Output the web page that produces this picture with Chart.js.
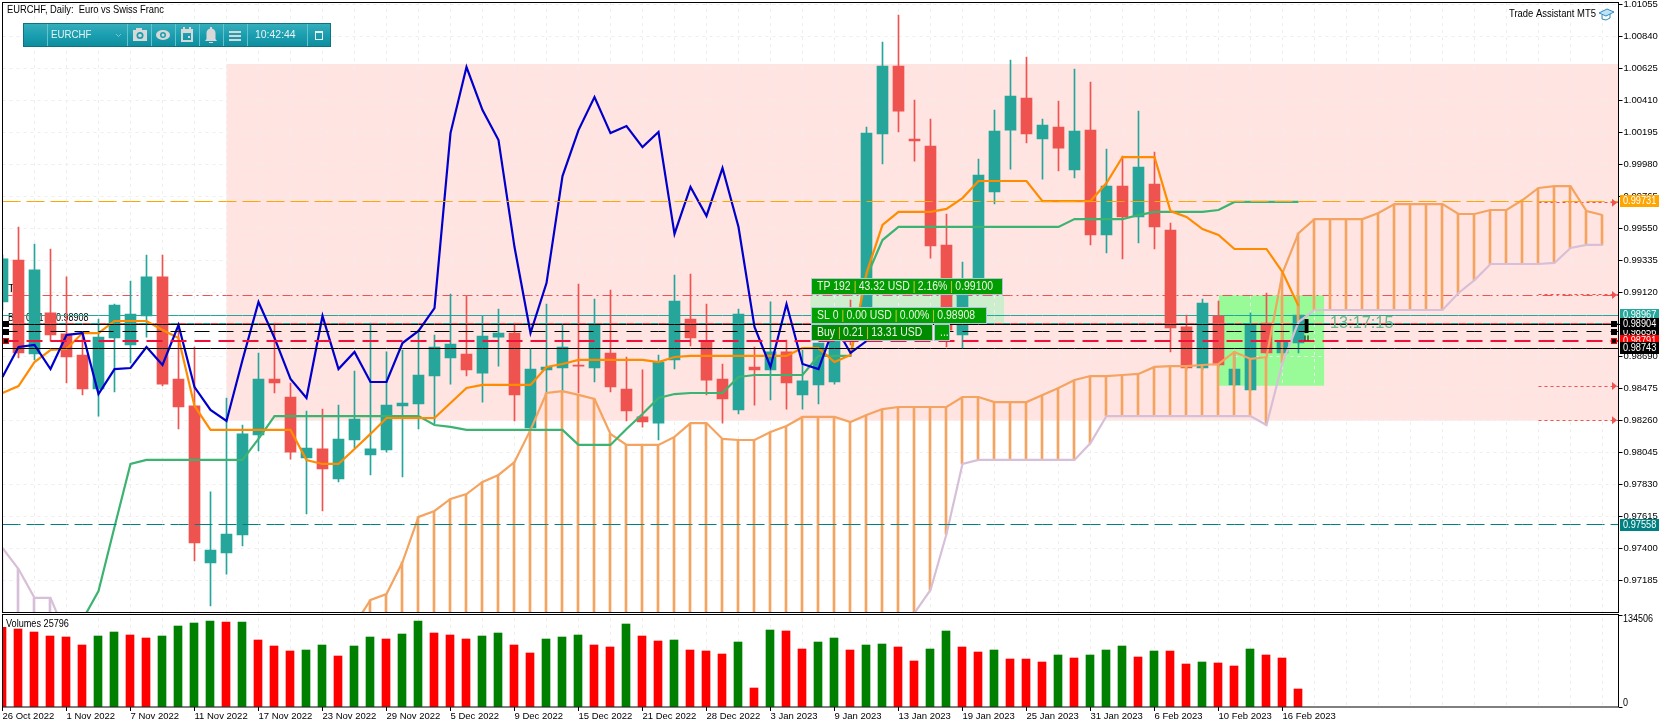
<!DOCTYPE html>
<html>
<head>
<meta charset="utf-8">
<title>EURCHF, Daily</title>
<script src="https://cdn.jsdelivr.net/npm/chart.js@4"></script>
<style>
  html, body { margin: 0; padding: 0; background: #fff; }
  canvas { display: block; }
</style>
</head>
<body>
<canvas id="chart" width="1670" height="728"></canvas>
<script>
const categories = [
  '26 Oct 2022','27 Oct 2022','28 Oct 2022','31 Oct 2022','1 Nov 2022','2 Nov 2022','3 Nov 2022','4 Nov 2022',
  '7 Nov 2022','8 Nov 2022','9 Nov 2022','10 Nov 2022','11 Nov 2022','14 Nov 2022','15 Nov 2022','16 Nov 2022',
  '17 Nov 2022','18 Nov 2022','21 Nov 2022','22 Nov 2022','23 Nov 2022','24 Nov 2022','25 Nov 2022','28 Nov 2022',
  '29 Nov 2022','30 Nov 2022','1 Dec 2022','2 Dec 2022','5 Dec 2022','6 Dec 2022','7 Dec 2022','8 Dec 2022',
  '9 Dec 2022','12 Dec 2022','13 Dec 2022','14 Dec 2022','15 Dec 2022','16 Dec 2022','19 Dec 2022','20 Dec 2022',
  '21 Dec 2022','22 Dec 2022','23 Dec 2022','27 Dec 2022','28 Dec 2022','29 Dec 2022','30 Dec 2022','2 Jan 2023',
  '3 Jan 2023','4 Jan 2023','5 Jan 2023','6 Jan 2023','9 Jan 2023','10 Jan 2023','11 Jan 2023','12 Jan 2023',
  '13 Jan 2023','16 Jan 2023','17 Jan 2023','18 Jan 2023','19 Jan 2023','20 Jan 2023','23 Jan 2023','24 Jan 2023',
  '25 Jan 2023','26 Jan 2023','27 Jan 2023','30 Jan 2023','31 Jan 2023','1 Feb 2023','2 Feb 2023','3 Feb 2023',
  '6 Feb 2023','7 Feb 2023','8 Feb 2023','9 Feb 2023','10 Feb 2023','13 Feb 2023','14 Feb 2023','15 Feb 2023',
  '16 Feb 2023','17 Feb 2023','20 Feb 2023','21 Feb 2023','22 Feb 2023','23 Feb 2023','24 Feb 2023','27 Feb 2023',
  '28 Feb 2023','1 Mar 2023','2 Mar 2023','3 Mar 2023','6 Mar 2023','7 Mar 2023','8 Mar 2023','9 Mar 2023',
  '10 Mar 2023','13 Mar 2023','14 Mar 2023','15 Mar 2023','16 Mar 2023','17 Mar 2023'
];

const opens = [.99055,.99337,.98705,.98981,.98840,.98698,.98470,.98813,.98766,.98961,.99223,.98537,.98356,.97301,.97368,.97489,.98161,.98537,.98416,.98006,.98067,.97865,.98127,.98026,.98060,.98356,.98369,.98557,.98678,.98705,.98577,.98819,.98846,.98208,.98598,.98611,.98631,.98611,.98712,.98470,.98282,.98241,.98665,.98940,.98792,.98537,.98329,.98618,.98598,.98719,.98430,.98497,.98517,.98866,.98866,1.00184,1.00640,1.00150,1.00103,.99438,.98833,.99202,.99794,1.00210,1.00425,1.00150,1.00231,.99942,1.00210,.99505,.99834,.99626,.99848,.99538,.98887,.98611,.98961,.98497,.98463,.98913,.98712,.98779];
const highs = [.99370,.99559,.99444,.99411,.99223,.98846,.98940,.99041,.99196,.99370,.99370,.98913,.98752,.97778,.98409,.98228,.98712,.98913,.98510,.98322,.98335,.98362,.98591,.98913,.98719,.98732,.98866,.98833,.99108,.99095,.98961,.99007,.98913,.98739,.99041,.98900,.99175,.99075,.99135,.98685,.98598,.98698,.99236,.99243,.99041,.98638,.99007,.98752,.99055,.98799,.98732,.98779,.98900,.99068,1.00231,1.00802,1.00983,1.00412,1.00284,.99646,.99323,1.00016,1.00345,1.00681,1.00701,1.00284,1.00405,1.00620,1.00533,1.00083,1.00036,1.00338,1.00063,.99585,.98967,.99075,.99061,.98719,.98981,.99115,.98913,.99095];
const lows = [.99001,.98678,.98665,.98792,.98510,.98430,.98288,.98450,.98645,.98819,.98490,.98201,.97314,.97012,.97226,.97415,.98053,.98443,.97999,.97630,.97650,.97845,.98073,.97892,.98046,.97879,.98201,.98235,.98503,.98557,.98382,.98624,.98255,.98194,.98443,.98443,.98443,.98517,.98450,.98255,.98214,.98127,.98604,.98759,.98430,.98241,.98302,.98362,.98396,.98335,.98335,.98369,.98503,.98766,.98799,.99982,1.00197,1.00002,.99350,.98752,.98745,.99102,.99713,.99948,1.00123,.99881,.99935,.99888,.99438,.99384,.99344,.99451,.99411,.98719,.98598,.98598,.98618,.98490,.98457,.98705,.98698,.98712];
const closes = [.99344,.98712,.99270,.98833,.98685,.98470,.98819,.99034,.98974,.99223,.98503,.98349,.97435,.97388,.97495,.98168,.98537,.98510,.98046,.98073,.97932,.98134,.98268,.98067,.98362,.98376,.98564,.98752,.98772,.98598,.98826,.98846,.98430,.98604,.98618,.98752,.98624,.98907,.98483,.98322,.98248,.98651,.99061,.98813,.98530,.98403,.98974,.98598,.98719,.98510,.98524,.98779,.98819,.98826,1.00190,1.00640,1.00338,1.00137,.99431,.98866,.99102,.99908,1.00204,1.00439,1.00184,1.00244,1.00089,1.00204,.99505,.99834,.99626,.99962,.99559,.98880,.98611,.99048,.98631,.98604,.98900,.98712,.98792,.98967];

// Blue line, stops 26 bars before the last candle
const lagging = [.98551,.98752,.98766,.98604,.98833,.98846,.98436,.98604,.98611,.98752,.98631,.98900,.98483,.98329,.98255,.98665,.99055,.98813,.98537,.98409,.98961,.98604,.98719,.98517,.98517,.98779,.98860,.99014,1.00190,1.00634,1.00345,1.00143,.99424,.98846,.99182,.99901,1.00210,1.00432,1.00190,1.00237,1.00096,1.00197,.99512,.99828,.99633,.99955,.99559,.98887,.98618,.99041,.98638,.98604,.98900,.98712,.98792,.98967];
const tenkan = [.98443,.98490,.98651,.98732,.98739,.98846,.98846,.98927,.98927,.98927,.98866,.98813,.98356,.98195,.98195,.98195,.98195,.98195,.98195,.97993,.97966,.97966,.98067,.98168,.98275,.98275,.98275,.98275,.98376,.98477,.98497,.98497,.98497,.98497,.98618,.98638,.98665,.98665,.98665,.98665,.98665,.98651,.98685,.98692,.98692,.98692,.98692,.98692,.98692,.98692,.98745,.98745,.98651,.98698,.99249,.99572,.99660,.99660,.99660,.99680,.99753,.99868,.99868,.99868,.99868,.99733,.99733,.99733,.99733,.99854,1.00029,1.00029,1.00029,.99666,.99626,.99545,.99505,.99411,.99411,.99411,.99256,.99028];
const kijun = [null,null,null,null,null,.96918,.97112,.97543,.97966,.97993,.97993,.97993,.97993,.97993,.97993,.97993,.98134,.98288,.98288,.98288,.98288,.98288,.98288,.98288,.98288,.98288,.98288,.98228,.98215,.98195,.98195,.98195,.98195,.98195,.98195,.98195,.98094,.98094,.98094,.98201,.98302,.98409,.98436,.98443,.98443,.98443,.98551,.98564,.98564,.98564,.98564,.98692,.98692,.98692,.99223,.99471,.99559,.99559,.99559,.99559,.99559,.99559,.99559,.99559,.99559,.99559,.99559,.99612,.99612,.99612,.99612,.99639,.99660,.99660,.99660,.99660,.99673,.99727,.99727,.99727,.99727,.99727];
// Cloud spans run below the visible range for part of the chart
const spanA = [.965,.965,.965,.965,.965,.965,.965,.965,.965,.965,.965,.965,.965,.965,.965,.965,.965,.965,.965,.965,.965,.965,.96884,.97052,.97092,.97307,.97610,.97650,.97731,.97764,.97845,.97892,.97979,.98195,.98443,.98456,.98430,.98403,.98168,.98094,.98094,.98094,.98148,.98241,.98241,.98134,.98127,.98127,.98181,.98221,.98282,.98282,.98282,.98248,.98295,.98335,.98349,.98349,.98349,.98349,.98416,.98416,.98382,.98382,.98382,.98430,.98477,.98530,.98557,.98557,.98564,.98571,.98618,.98624,.98624,.98631,.98638,.98719,.98672,.98685,.99249,.99518,.99612,.99612,.99612,.99612,.99653,.99713,.99713,.99713,.99713,.99646,.99646,.99673,.99673,.99740,.99821,.99834,.99834,.99666,.99639,null];
const spanB = [.97401,.97260,.97066,.97066,.96810,.965,.965,.965,.965,.965,.965,.965,.965,.965,.965,.965,.965,.965,.965,.965,.965,.965,.965,.965,.965,.965,.965,.965,.965,.965,.965,.965,.965,.965,.965,.965,.965,.965,.965,.965,.965,.965,.965,.965,.965,.965,.965,.965,.965,.965,.965,.965,.965,.965,.965,.965,.965,.96965,.97119,.97495,.97966,.97993,.97993,.97993,.97993,.97993,.97993,.97993,.98107,.98288,.98288,.98288,.98288,.98288,.98288,.98288,.98288,.98288,.98288,.98228,.98645,.98920,.99001,.99001,.99001,.99001,.99001,.99001,.99001,.99001,.99001,.99115,.99202,.99310,.99310,.99310,.99310,.99317,.99418,.99438,.99438,null];

const volumes = [116465,114028,109643,103795,102333,90638,103795,109643,105257,100871,103795,118414,122800,125723,124262,124300,97947,89176,81866,83328,90638,74557,89176,102333,99409,106719,125723,108181,105257,99409,103795,108181,90638,78943,99409,102333,105257,90638,87714,121338,103795,96485,97947,83328,81866,77481,95024,27776,112566,111104,84790,95024,100871,83328,90638,92100,87714,67247,84790,111104,87714,80405,83328,70171,70100,65786,76019,71633,76019,83328,89176,73095,81866,81800,62862,65786,64324,59938,84790,76019,71633,26314];

const priceTicks = [1.01055,1.00840,1.00625,1.00410,1.00195,.99980,.99765,.99550,.99335,.99120,.98905,.98690,.98475,.98260,.98045,.97830,.97615,.97400,.97185];
const volumeTicks = [134506,0];

const levelOrange = .99731, levelAsk = .98967, levelTealLow = .97558;
const levelTP = .99100, levelSL = .98908;
const levelBlack1 = .98904, levelBlack2 = .98856, levelRed = .98791, levelBlack3 = .98743;
const dottedLevels = [.99722,.99102,.98490,.98260];

const zone = { from: 14, to: 101, top: 1.00654, bottom: .98257 };
const greenBox = { from: 76, to: 82.6, top: .99100, bottom: .98492 };
const tradeBox = { from: 50.5, to: 62.6, top: .99100, bottom: .98908 };

const UP = '#26A69A', DOWN = '#EF5350';
const FONT = '"Liberation Sans"';

const candleColors = closes.map((c, i) => c >= opens[i] ? UP : DOWN);
const volumeColors = volumes.map((v, i) => i > 0 && v > volumes[i - 1] ? '#008000' : '#FF0000');
const hatch = spanA.map((a, i) => a === null ? null : [Math.min(a, spanB[i]), Math.max(a, spanB[i])]);
const hatchColors = spanA.map((a, i) => a > spanB[i] ? '#F4A460' : '#D8BFD8');

function level(value, color, dash, width, order, offset) {
  return {
    type: 'line', yAxisID: 'y', data: categories.map(() => value), borderColor: color,
    borderWidth: width, borderDash: dash, borderDashOffset: offset || 0,
    pointRadius: 0, order: order, tension: 0, snapY: true
  };
}
function curve(values, color, order) {
  return { type: 'line', yAxisID: 'y', data: values, borderColor: color, borderWidth: 2.2, pointRadius: 0, order: order, tension: 0 };
}
function dotted(value) {
  return {
    type: 'line', yAxisID: 'y', data: categories.map((c, i) => i >= 96 ? value : null),
    borderColor: DOWN, borderWidth: 1, borderDash: [3, 3], pointRadius: 0, order: 9, tension: 0, snapY: true
  };
}

function rectFor(chart, r, color) {
  const x = chart.scales.x, y = chart.scales.y;
  const px = v => x.left + (x.right - x.left) * v / (categories.length - 1);
  chart.ctx.fillStyle = color;
  chart.ctx.fillRect(px(r.from), y.getPixelForValue(r.top), px(r.to) - px(r.from), y.getPixelForValue(r.bottom) - y.getPixelForValue(r.top));
}

// MT5 text is narrower than the installed fonts, sx squeezes it horizontally
function label(ctx, text, x, y, font, color, sx) {
  ctx.save();
  ctx.font = font;
  ctx.fillStyle = color;
  ctx.textAlign = 'left';
  ctx.textBaseline = 'middle';
  ctx.translate(x, y);
  ctx.scale(sx || 1, 1);
  ctx.fillText(text, 0, 0);
  ctx.restore();
}

function flag(ctx, y, text, bg) {
  ctx.fillStyle = bg;
  ctx.fillRect(1620, Math.round(y) - 6, 39, 12);
  label(ctx, text, 1623, Math.round(y), '10px ' + FONT, '#fff', .92);
}

function tradeLabel(ctx, x, y, w, h, parts, bg) {
  const sx = .87, font = '12px ' + FONT;
  ctx.fillStyle = bg;
  ctx.fillRect(x, y, w, h);
  ctx.strokeStyle = '#B0C4DE';
  ctx.lineWidth = 1;
  ctx.strokeRect(x + .5, y + .5, w - 1, h - 1);
  let cx = x + 6;
  parts.forEach((p, i) => {
    if (i > 0) {
      label(ctx, '|', cx + 3, y + h / 2, font, '#F0C030', sx);
      cx += 8;
    }
    label(ctx, p, cx, y + h / 2, font, '#F0F5E8', sx);
    ctx.font = font;
    cx += ctx.measureText(p).width * sx;
  });
}

function drawToolbar(ctx) {
  const x = 23, y = 23, w = 308, h = 24;
  const g = ctx.createLinearGradient(0, y, 0, y + h);
  g.addColorStop(0, '#38AEBC');
  g.addColorStop(.5, '#1A9FB0');
  g.addColorStop(1, '#0D8C9C');
  ctx.fillStyle = g;
  ctx.fillRect(x, y, w, h);
  ctx.strokeStyle = '#0B7480';
  ctx.lineWidth = 1;
  ctx.strokeRect(x + .5, y + .5, w - 1, h - 1);
  ctx.strokeStyle = '#66C2CC';
  [47, 127, 151, 175, 199, 223, 247, 307].forEach(sx => {
    ctx.beginPath(); ctx.moveTo(sx + .5, y + 1); ctx.lineTo(sx + .5, y + h - 1); ctx.stroke();
  });
  label(ctx, 'EURCHF', 51, 35, '11px ' + FONT, '#E8F4F6', .88);
  const gray = '#D8D8D8';
  ctx.strokeStyle = '#7FC4CE';
  ctx.beginPath(); ctx.moveTo(116, 34); ctx.lineTo(118.5, 36.5); ctx.lineTo(121, 34); ctx.stroke();
  // camera
  ctx.fillStyle = gray;
  ctx.fillRect(133, 30, 14, 11);
  ctx.fillRect(136, 28, 6, 2);
  ctx.fillStyle = '#1A9FB0';
  ctx.beginPath(); ctx.arc(140, 35.5, 3.5, 0, Math.PI * 2); ctx.fill();
  ctx.fillStyle = gray;
  ctx.beginPath(); ctx.arc(140, 35.5, 1.8, 0, Math.PI * 2); ctx.fill();
  // eye
  ctx.fillStyle = gray;
  ctx.beginPath(); ctx.ellipse(163, 35, 7, 5, 0, 0, Math.PI * 2); ctx.fill();
  ctx.fillStyle = '#1A9FB0';
  ctx.beginPath(); ctx.arc(163, 35, 3, 0, Math.PI * 2); ctx.fill();
  ctx.fillStyle = gray;
  ctx.beginPath(); ctx.arc(163, 35, 1.5, 0, Math.PI * 2); ctx.fill();
  // calendar
  ctx.strokeStyle = gray;
  ctx.lineWidth = 2;
  ctx.strokeRect(182, 30, 10, 11);
  ctx.fillStyle = gray;
  ctx.fillRect(181, 29, 12, 4);
  ctx.fillRect(183, 27, 2, 3);
  ctx.fillRect(189, 27, 2, 3);
  ctx.fillRect(188, 36, 2, 2);
  // bell
  ctx.fillStyle = gray;
  ctx.beginPath(); ctx.arc(211, 33, 4.5, Math.PI, 0); ctx.lineTo(215.5, 39); ctx.lineTo(217, 41); ctx.lineTo(205, 41); ctx.lineTo(206.5, 39); ctx.closePath(); ctx.fill();
  ctx.fillRect(210, 27, 2, 2);
  ctx.fillRect(209, 42, 4, 1);
  // menu
  ctx.fillRect(229, 31, 12, 2);
  ctx.fillRect(229, 35, 12, 2);
  ctx.fillRect(229, 39, 12, 2);
  label(ctx, '10:42:44', 255, 35, '11px ' + FONT, '#E8F4F6', .95);
  // window
  ctx.strokeStyle = '#F0F0F0';
  ctx.lineWidth = 1;
  ctx.strokeRect(315.5, 32.5, 7, 7);
  ctx.fillStyle = '#F0F0F0';
  ctx.fillRect(315, 31, 8, 2);
  ctx.lineWidth = 1;
}

const chromePlugin = {
  id: 'chrome',
  beforeDraw(chart) {
    const ctx = chart.ctx;
    ctx.save();
    ctx.fillStyle = '#fff';
    ctx.fillRect(0, 0, chart.width, chart.height);
    rectFor(chart, zone, '#FFE4E1');
    rectFor(chart, tradeBox, '#CDEECC');
    rectFor(chart, greenBox, '#98FB98');
    ctx.restore();
  },
  beforeDatasetsDraw(chart) {
    const ctx = chart.ctx, y = chart.scales.y;
    ctx.save();
    label(ctx, 'T', 8, y.getPixelForValue(levelTP) - 6, '11px ' + FONT, '#000');
    label(ctx, 'Buy 0.21 at 0.98908', 8, y.getPixelForValue(levelSL) - 6, '10px ' + FONT, '#000', .9);
    ctx.restore();
  },
  // keep horizontal levels and narrow bars on whole pixels so they stay sharp
  beforeDatasetDraw(chart, args) {
    const ds = chart.data.datasets[args.index], ctx = chart.ctx;
    ctx.save();
    if (ds.snapY) {
      const value = ds.data.find(v => v !== null);
      const py = chart.scales.y.getPixelForValue(value);
      const target = ds.borderWidth % 2 ? Math.floor(py) + .5 : Math.round(py);
      ctx.translate(0, target - py);
    }
    if (ds.snapX) ctx.translate(ds.snapX, 0);
  },
  afterDatasetDraw(chart) {
    chart.ctx.restore();
  },
  afterDatasetsDraw(chart) {
    const ctx = chart.ctx, y = chart.scales.y, v = chart.scales.yVolume, x = chart.scales.x;
    const a = chart.chartArea;
    ctx.save();

    // position marker beside the last candle
    ctx.fillStyle = '#000';
    const mx = x.getPixelForValue(81) + 6;
    ctx.fillRect(mx, y.getPixelForValue(.98940), 4, 14);
    ctx.fillRect(mx, y.getPixelForValue(.98830), 1, 5);
    ctx.fillRect(mx + 3, y.getPixelForValue(.98830), 1, 5);

    // pane frames
    ctx.strokeStyle = '#000';
    ctx.lineWidth = 1;
    ctx.strokeRect(a.left, 2.5, a.right - a.left, 610);
    ctx.strokeRect(a.left, 614.5, a.right - a.left, 92.5);

    // line handles on both sides
    [[levelBlack1, '#000'], [levelBlack2, '#000'], [levelRed, '#FF0000']].forEach(([val, col]) => {
      const py = Math.round(y.getPixelForValue(val));
      [3, 1611].forEach(sx => {
        ctx.fillStyle = col;
        ctx.fillRect(sx, py - 3, 6, 6);
        ctx.fillStyle = '#000';
        ctx.fillRect(sx + 1, py - 2, 4, 4);
      });
    });

    // arrows at the end of the dotted levels
    dottedLevels.forEach(val => {
      const py = y.getPixelForValue(val);
      ctx.fillStyle = DOWN;
      ctx.beginPath(); ctx.moveTo(1612, py - 4); ctx.lineTo(1617, py); ctx.lineTo(1612, py + 4); ctx.closePath(); ctx.fill();
    });

    // countdown
    label(ctx, '13:17:15', 1330, y.getPixelForValue(levelSL), '17px ' + FONT, '#66BB8A', .96);

    // trade labels
    tradeLabel(ctx, 811, 278, 192, 17, ['TP 192', '43.32 USD', '2.16%', '0.99100'], '#009C00');
    tradeLabel(ctx, 811, 307, 176, 17, ['SL 0', '0.00 USD', '0.00%', '0.98908'], '#00A000');
    tradeLabel(ctx, 811, 324, 122, 17, ['Buy', '0.21', '13.31 USD'], '#008A00');
    tradeLabel(ctx, 934, 324, 16, 17, ['...'], '#00A000');

    drawToolbar(ctx);

    label(ctx, 'EURCHF, Daily:  Euro vs Swiss Franc', 7, 10, '11px ' + FONT, '#000', .85);
    label(ctx, 'Trade Assistant MT5', 1509, 14, '11px ' + FONT, '#000', .86);
    label(ctx, 'Volumes 25796', 6, 624, '11px ' + FONT, '#000', .83);

    // graduation cap
    ctx.strokeStyle = '#2E8BC0';
    ctx.fillStyle = '#BEE3F2';
    ctx.beginPath(); ctx.moveTo(1599, 13); ctx.lineTo(1607, 9); ctx.lineTo(1614, 12); ctx.lineTo(1606, 16); ctx.closePath(); ctx.fill(); ctx.stroke();
    ctx.beginPath(); ctx.moveTo(1602, 15); ctx.lineTo(1602, 19); ctx.lineTo(1606, 20); ctx.lineTo(1610, 18); ctx.lineTo(1610, 14); ctx.stroke();

    // price flags
    flag(ctx, y.getPixelForValue(levelOrange), '0.99731', '#FFA500');
    flag(ctx, y.getPixelForValue(levelTealLow), '0.97558', '#008080');
    flag(ctx, y.getPixelForValue(levelAsk), '0.98967', '#26A69A');
    flag(ctx, y.getPixelForValue(levelBlack2), '0.98856', '#000');
    flag(ctx, y.getPixelForValue(levelBlack1), '0.98904', '#000');
    flag(ctx, y.getPixelForValue(levelRed), '0.98791', '#FF0000');
    flag(ctx, y.getPixelForValue(levelBlack3), '0.98743', '#000');

    // volume scale labels sit inside the pane
    label(ctx, String(volumeTicks[0]), 1623, v.getPixelForValue(volumeTicks[0]) + 4, '10px ' + FONT, '#000', .9);
    label(ctx, String(volumeTicks[1]), 1623, v.getPixelForValue(volumeTicks[1]) - 4, '10px ' + FONT, '#000', .9);
    ctx.restore();
  }
};

function noPadding(s) {
  s.paddingTop = 0; s.paddingBottom = 0; s.paddingLeft = 0; s.paddingRight = 0;
}

new Chart(document.getElementById('chart'), {
  type: 'bar',
  plugins: [chromePlugin],
  data: {
    labels: categories,
    datasets: [
      level(levelBlack1, '#000', [], 1, 1),
      level(levelBlack3, '#000', [], 1, 1),
      level(levelBlack2, '#000', [15, 9], 1, 1),
      level(levelRed, '#F0103A', [16, 8], 2, 2),
      level(levelOrange, '#FFA500', [18, 6], 1, 2),
      level(levelTealLow, '#008080', [18, 6], 1, 2),
      curve(lagging, '#0000CD', 3),
      curve(tenkan, '#FF8C00', 4),
      curve(kijun, '#3CB371', 5),
      curve(spanA, '#F4A460', 6),
      curve(spanB, '#D8BFD8', 7),
      { type: 'bar', yAxisID: 'y', data: hatch, backgroundColor: hatchColors, barThickness: 2, maxBarThickness: 2, grouped: false, order: 8, snapX: -.5 },
      dotted(dottedLevels[0]), dotted(dottedLevels[1]), dotted(dottedLevels[2]), dotted(dottedLevels[3]),
      { type: 'bar', yAxisID: 'y', data: opens.map((o, i) => [o, closes[i]]), backgroundColor: candleColors, barThickness: 11, maxBarThickness: 11, grouped: false, order: 10 },
      { type: 'bar', yAxisID: 'y', data: lows.map((l, i) => [l, highs[i]]), backgroundColor: candleColors, barThickness: 1, maxBarThickness: 1, grouped: false, order: 11 },
      level(levelSL, '#EF5350', [8, 8], 1, 12),
      level(levelSL, '#26A69A', [8, 8], 1, 12, 8),
      level(levelAsk, '#26A69A', [], 1, 12),
      level(levelTP, '#EF5350', [10, 4, 2, 4], 1, 12),
      { type: 'bar', yAxisID: 'yVolume', data: volumes, backgroundColor: volumeColors, barThickness: 8, maxBarThickness: 8, grouped: false, order: 13, snapX: -.5 }
    ]
  },
  options: {
    responsive: false,
    animation: false,
    devicePixelRatio: 1,
    layout: { padding: { left: 2.5, top: 2, right: 0, bottom: 0 } },
    plugins: { legend: { display: false }, tooltip: { enabled: false } },
    events: [],
    scales: {
      x: {
        type: 'category',
        offset: false,
        afterFit: s => { s.height = 21; noPadding(s); },
        border: { display: false, dash: [3, 4] },
        grid: {
          color: c => c.index % 2 === 0 ? '#EEEEEE' : 'transparent',
          tickColor: c => c.index % 4 === 0 && c.index <= 80 ? '#000' : 'transparent',
          tickBorderDash: [],
          tickLength: 4,
          offset: false
        },
        ticks: {
          autoSkip: false, maxRotation: 0, minRotation: 0, align: 'start', padding: 0,
          color: '#000', font: { family: 'Liberation Sans', size: 9.5 },
          callback: (v, i) => i % 4 === 0 && i <= 80 ? categories[i] : ''
        }
      },
      y: {
        position: 'right', stack: 'panes', stackWeight: 610,
        min: .96971, max: 1.01071,
        afterFit: s => { s.width = 51.5; noPadding(s); },
        afterBuildTicks: s => { s.ticks = priceTicks.map(v => ({ value: v })); },
        border: { display: false, dash: [3, 4] },
        grid: { color: '#EEEEEE', tickColor: '#000', tickBorderDash: [], tickLength: 4 },
        ticks: { color: '#000', padding: 1, font: { family: 'Liberation Sans', size: 9.5 }, callback: v => v.toFixed(5) }
      },
      yVolume: {
        position: 'right', stack: 'panes', stackWeight: 95,
        min: 0, max: 138900,
        afterFit: s => { s.width = 51.5; noPadding(s); },
        afterBuildTicks: s => { s.ticks = volumeTicks.map(v => ({ value: v })); },
        border: { display: false },
        grid: { color: 'transparent', tickColor: '#000', tickLength: 4 },
        ticks: { padding: 1, font: { size: 10 }, callback: () => '' }
      }
    }
  }
});
</script>
</body>
</html>
